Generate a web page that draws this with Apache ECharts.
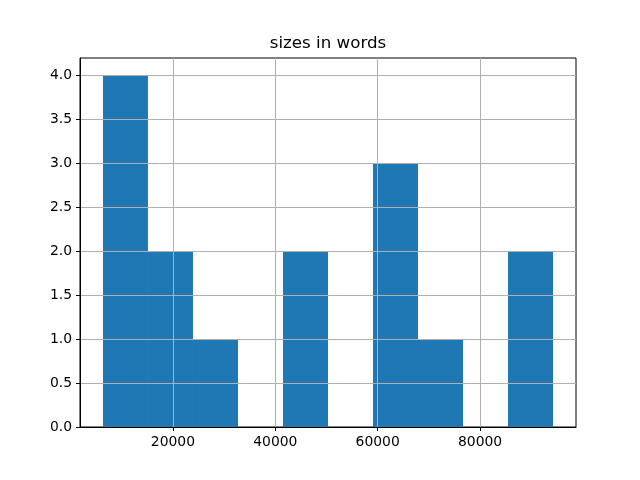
<!DOCTYPE html>
<html>
<head>
<meta charset="utf-8">
<script src="https://cdn.jsdelivr.net/npm/echarts@6/dist/echarts.min.js"></script>
<style>html,body{margin:0;padding:0;background:#fff}#c{width:640px;height:480px}</style>
</head>
<body>
<div id="c"></div>
<script>
// histogram bin edges (words) and counts
var binEdges = [6341, 15131, 23922, 32712, 41502, 50292, 59083, 67873, 76663, 85454, 94244];
var counts = [4, 2, 1, 0, 2, 0, 3, 1, 0, 2];
var xTicks = [20000, 40000, 60000, 80000];
var yTicks = [0, 0.5, 1.0, 1.5, 2.0, 2.5, 3.0, 3.5, 4.0];
var titleText = 'sizes in words';

var bins = counts.map(function (c, i) { return [binEdges[i], binEdges[i + 1], c]; });
var FONT = 'DejaVu Sans';

var chart = echarts.init(document.getElementById('c'), null, {renderer: 'canvas'});
chart.setOption({
  animation: false,
  graphic: [{
    type: 'text', x: 328, y: 52, z: 10,
    style: {text: titleText, fontFamily: FONT, fontSize: 16.7, fill: '#000', align: 'center', verticalAlign: 'bottom'}
  }],
  grid: {
    left: 80, right: 64, top: 58, bottom: 53,
    show: true, borderColor: '#000', borderWidth: 1, backgroundColor: 'transparent'
  },
  xAxis: {
    type: 'value', min: 1854, max: 98732, z: 5,
    axisLine: {show: true, onZero: false, lineStyle: {color: '#000', width: 1}},
    axisTick: {show: true, inside: false, length: 4, lineStyle: {color: '#000'}, customValues: xTicks},
    axisLabel: {show: true, margin: 8, fontFamily: FONT, fontSize: 13.9, color: '#000', customValues: xTicks,
      formatter: function (v) { return String(v); }},
    splitLine: {show: true, lineStyle: {color: '#b0b0b0', width: 1}}
  },
  yAxis: {
    type: 'value', min: 0, max: 4.2, z: 5,
    axisLine: {show: true, lineStyle: {color: '#000', width: 1}},
    axisTick: {show: true, inside: false, length: 4, lineStyle: {color: '#000'}, customValues: yTicks},
    axisLabel: {show: true, margin: 8, fontFamily: FONT, fontSize: 13.9, color: '#000', customValues: yTicks,
      formatter: function (v) { return v.toFixed(1); }},
    splitLine: {show: true, lineStyle: {color: '#b0b0b0', width: 1}}
  },
  series: [{
    type: 'custom', z: 1,
    data: bins,
    encode: {x: [0, 1], y: 2},
    renderItem: function (params, api) {
      var p0 = api.coord([api.value(0), 0]);
      var p1 = api.coord([api.value(1), api.value(2)]);
      return {
        type: 'rect',
        shape: {x: p0[0], y: p1[1], width: p1[0] - p0[0], height: p0[1] - p1[1]},
        style: {fill: '#1f77b4'}
      };
    }
  }]
});
</script>
</body>
</html>
